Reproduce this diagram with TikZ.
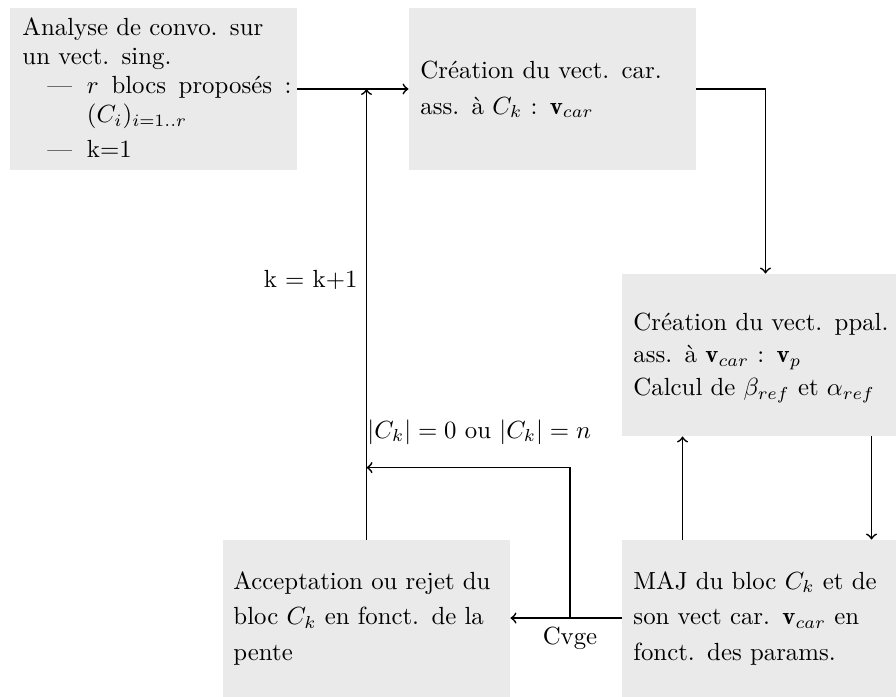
\documentclass[tikz,border=0pt]{standalone}
\usepackage{fontspec}
\usepackage{amsmath}
\usetikzlibrary{calc}
\definecolor{boxgray}{RGB}{234,234,234}
\begin{document}
\begin{tikzpicture}[x=0.4032pt, y=-0.4032pt,
  box/.style={fill=boxgray, draw=none, inner sep=0pt, minimum width=115.7pt, minimum height=65.3pt},
  txt/.style={anchor=base west, inner sep=0pt, text width=112pt, align=left},
  conn/.style={draw, line width=0.7pt, ->},
  lbl/.style={inner sep=0pt}]
\useasboundingbox (0,0) rectangle (896,697);
\clip (0,0) rectangle (896,697);

% boxes
\node[box] (b1) at (153.5,89) {};
\node[box] (b2) at (552.5,89) {};
\node[box] (b3) at (765.5,355) {};
\node[box] (b4) at (765.5,621) {};
\node[box] (b5) at (366.5,621) {};

% texts
\node[txt, font=\fontsize{10}{11.8}\selectfont] (t1) at (22,35)
  {Analyse de convo. sur\\
   un vect. sing.\\
   \hspace*{10pt}—\hspace{6pt}$r$\hspace{5.1pt}blocs\hspace{5.1pt}proposés\hspace{5.1pt}:\\
   \hspace*{26pt}$(C_i)_{i=1..r}$\\[2.3pt]
   \hspace*{10pt}—\hspace{6pt}k=1};
\node[txt, font=\fontsize{10}{14.6}\selectfont] (t2) at (420,78)
  {Création du vect. car.\\ ass. à $C_k$ : $\mathbf{v}_{car}$};
\node[txt, font=\fontsize{10}{13.3}\selectfont] (t3) at (633,330)
  {Création du vect. ppal.\\ ass. à $\mathbf{v}_{car}$ : $\mathbf{v}_p$\\ Calcul de $\beta_{ref}$ et $\alpha_{ref}$};
\node[txt, font=\fontsize{10}{14.5}\selectfont] (t4) at (633,589)
  {MAJ du bloc $C_k$ et de\\ son vect car. $\mathbf{v}_{car}$ en\\ fonct. des params.};
\node[txt, font=\fontsize{10}{14.5}\selectfont] (t5) at (233,589)
  {Acceptation ou rejet du\\ bloc $C_k$ en fonct. de la\\ pente};

% connectors
\draw[conn] (b1) -- (b2);
\coordinate (j1) at (b5.north |- b1.east);
\draw[conn] (b5.north) -- (j1);
\draw[conn] (b2.east) -| (b3.north);
\draw[conn] ([xshift=24.6pt]b4.north west) -- ([xshift=24.6pt]b3.south west);
\draw[conn] ([xshift=100.8pt]b3.south west) -- ([xshift=100.8pt]b4.north west);
\draw[conn] ([yshift=1.2pt]b4.west) -- node[pos=0.464, below] (cv) {Cvge} ([yshift=1.2pt]b5.east);
\path ([yshift=1.2pt]b4.west) -- ([yshift=1.2pt]b5.east) coordinate[pos=0.464] (br);
\coordinate (j2) at ([yshift=29pt]b5.north);
\draw[conn] (br) |- (j2);

% labels
\node[lbl, anchor=base east] (lk) at (358,287) {k = k+1};
\node[lbl, anchor=base west] (lc) at (367,438) {$|C_k| = 0$ ou $|C_k| = n$};
\end{tikzpicture}
\end{document}
